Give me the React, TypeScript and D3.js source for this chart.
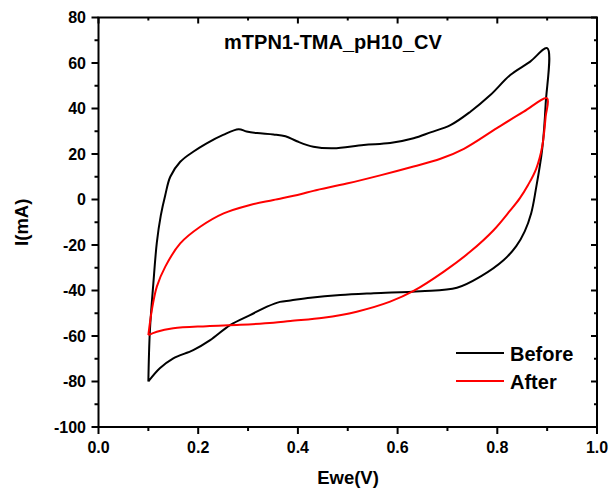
import React from "react";
import * as d3 from "d3";

const beforeV = [0.1, 0.103, 0.11, 0.117, 0.125, 0.134, 0.144, 0.164, 0.19, 0.217, 0.25, 0.281, 0.297, 0.318, 0.351, 0.375, 0.398, 0.431, 0.471, 0.532, 0.585, 0.632, 0.666, 0.706, 0.746, 0.786, 0.826, 0.866, 0.9,
  0.897, 0.89, 0.877, 0.868, 0.855, 0.838, 0.813, 0.766, 0.719, 0.646, 0.552, 0.485, 0.425, 0.385, 0.364, 0.338, 0.304, 0.264, 0.224, 0.19, 0.15, 0.123, 0.1];
const beforeI = [-80, -58, -37, -19, -7, 2, 10, 16.6, 21, 24.7, 28.4, 30.9, 29.9, 29.2, 28.6, 27.8, 25.6, 23.2, 22.5, 24, 24.8, 26.9, 29.5, 32.7, 38.6, 45.9, 54.7, 60.6, 66.5,
  42, 22, 4, -6, -14, -20.5, -26.6, -33.9, -38.8, -40.3, -41.2, -42, -43.2, -44.4, -45, -47.1, -50.8, -55.2, -61.8, -66.2, -69.8, -74.2, -80];
const afterV = [0.1, 0.107, 0.117, 0.134, 0.164, 0.204, 0.251, 0.304, 0.351, 0.405, 0.431, 0.498, 0.565, 0.632, 0.686, 0.733, 0.8, 0.853, 0.9,
  0.897, 0.89, 0.878, 0.862, 0.845, 0.826, 0.793, 0.746, 0.692, 0.632, 0.585, 0.518, 0.451, 0.385, 0.351, 0.284, 0.217, 0.15, 0.117, 0.1];
const afterI = [-59.6, -48.6, -38.3, -29.5, -19.3, -12, -6.1, -2.4, -0.2, 2.3, 3.8, 7, 10.6, 14.5, 17.9, 22.3, 31.5, 38.6, 44.5,
  36.4, 23.2, 13.5, 6.5, 0.5, -4.8, -13.4, -22.9, -31.8, -40.2, -44.9, -49.3, -52, -53.4, -54.2, -55.1, -55.7, -56.6, -58.1, -59.6];

const xTicks = [0.0, 0.2, 0.4, 0.6, 0.8, 1.0];
const xMinor = [0.1, 0.3, 0.5, 0.7, 0.9];
const yTicks = [-100, -80, -60, -40, -20, 0, 20, 40, 60, 80];
const yMinor = [-90, -70, -50, -30, -10, 10, 30, 50, 70];
const seriesNames = ["Before", "After"];
const seriesColors = ["#000000", "#ff0000"];
const title = "mTPN1-TMA_pH10_CV";

export default function App() {
  const L = 98.5, R = 597, T = 17.5, B = 427;
  const x = d3.scaleLinear().domain([0, 1]).range([L, R]);
  const y = d3.scaleLinear().domain([-100, 80]).range([B, T]);
  const line = d3.line<[number, number]>().x(d => x(d[0])).y(d => y(d[1])).curve(d3.curveCatmullRom.alpha(0.5));
  const before = beforeV.map((v, i) => [v, beforeI[i]] as [number, number]);
  const after = afterV.map((v, i) => [v, afterI[i]] as [number, number]);
  const font = "'Liberation Sans', Arial, sans-serif";
  return (
    <div style={{ position: "absolute", left: 0, top: 0 }}>
      <svg width={610} height={492} style={{ display: "block", background: "#fff" }} fontFamily={font}>
        <path d={line(before) || ""} fill="none" stroke={seriesColors[0]} strokeWidth={2} strokeLinejoin="round" />
        <path d={line(after) || ""} fill="none" stroke={seriesColors[1]} strokeWidth={2} strokeLinejoin="round" />
        <rect x={L} y={T} width={R - L} height={B - T} fill="none" stroke="#000" strokeWidth={2} />
        {xTicks.map(t => (
          <g key={"xb" + t}>
            <line x1={x(t)} x2={x(t)} y1={B} y2={B + 7} stroke="#000" strokeWidth={2} />
            <line x1={x(t)} x2={x(t)} y1={T} y2={T + 6} stroke="#000" strokeWidth={2} />
            <text x={x(t)} y={B + 26} textAnchor="middle" fontSize={16} fontWeight="bold">{t.toFixed(1)}</text>
          </g>
        ))}
        {xMinor.map(t => (
          <g key={"xm" + t}>
            <line x1={x(t)} x2={x(t)} y1={B} y2={B + 4} stroke="#000" strokeWidth={2} />
            <line x1={x(t)} x2={x(t)} y1={T} y2={T + 3} stroke="#000" strokeWidth={2} />
          </g>
        ))}
        {yTicks.map(t => (
          <g key={"yl" + t}>
            <line x1={L} x2={L - 7} y1={y(t)} y2={y(t)} stroke="#000" strokeWidth={2} />
            <line x1={R} x2={R - 6} y1={y(t)} y2={y(t)} stroke="#000" strokeWidth={2} />
            <text x={L - 12.5} y={y(t) + 5.5} textAnchor="end" fontSize={16} fontWeight="bold">{t}</text>
          </g>
        ))}
        {yMinor.map(t => (
          <g key={"ym" + t}>
            <line x1={L} x2={L - 4} y1={y(t)} y2={y(t)} stroke="#000" strokeWidth={2} />
            <line x1={R} x2={R - 3} y1={y(t)} y2={y(t)} stroke="#000" strokeWidth={2} />
          </g>
        ))}
        <text x={333} y={49} textAnchor="middle" fontSize={20} fontWeight="bold">{title}</text>
        <text x={348} y={484} textAnchor="middle" fontSize={18.5} fontWeight="bold">Ewe(V)</text>
        <text transform={`translate(28,${(T + B) / 2}) rotate(-90)`} textAnchor="middle" fontSize={18.5} fontWeight="bold">I(mA)</text>
        {seriesNames.map((n, i) => (
          <g key={n}>
            <line x1={456} x2={504} y1={353 + i * 28} y2={353 + i * 28} stroke={seriesColors[i]} strokeWidth={2} />
            <text x={510} y={361 + i * 28} fontSize={20} fontWeight="bold">{n}</text>
          </g>
        ))}
      </svg>
    </div>
  );
}
